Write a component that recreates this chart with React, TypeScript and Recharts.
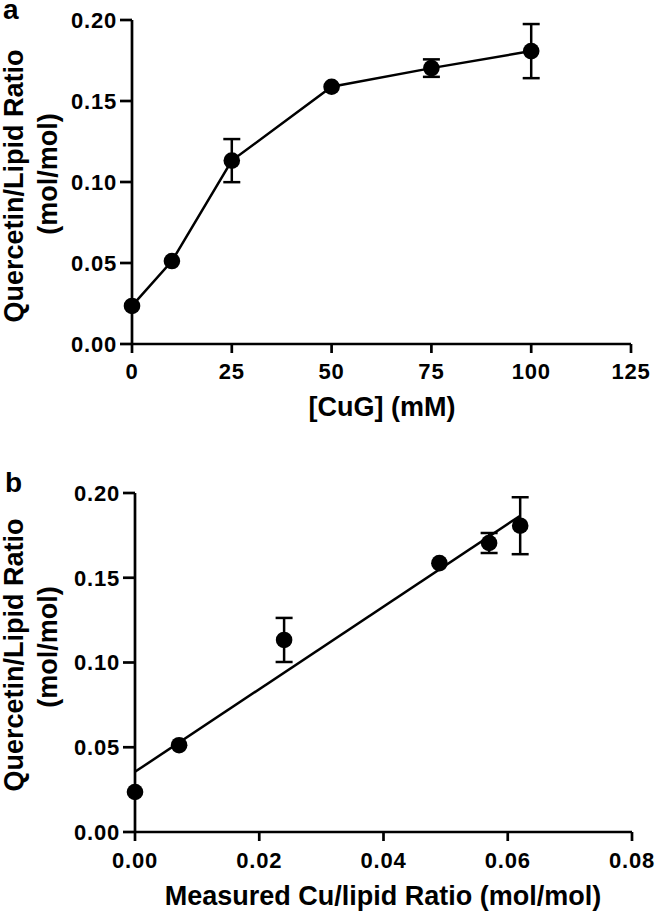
import { ComposedChart, ErrorBar, Line, Scatter, XAxis, YAxis } from 'recharts'

// panel a: uptake vs CuG concentration
const cugConc = [0, 10, 25, 50, 75, 100]
const ratioA = [0.0235, 0.0512, 0.1132, 0.1588, 0.1703, 0.1808]
const errA = [0, 0, 0.0133, 0, 0.0054, 0.0167]

// panel b: uptake vs measured Cu/lipid
const cuLipid = [0, 0.0071, 0.024, 0.049, 0.057, 0.062]
const ratioB = [0.0236, 0.0512, 0.1133, 0.1586, 0.1705, 0.1807]
const errB = [0, 0, 0.013, 0, 0.0059, 0.0168]

// linear fit drawn in panel b
const fitX = [0, 0.062]
const fitY = [0.0355, 0.1866]

const xTicksA = [0, 25, 50, 75, 100, 125]
const xTicksB = [0, 0.02, 0.04, 0.06, 0.08]
const yTicks = [0, 0.05, 0.1, 0.15, 0.2]

const dataA = cugConc.map((x, i) => ({ x, y: ratioA[i], err: errA[i] }))
const dataB = cuLipid.map((x, i) => ({ x, y: ratioB[i], err: errB[i] }))
const fitData = fitX.map((x, i) => ({ x, y: fitY[i] }))

const FONT = '"Liberation Sans", Arial, Helvetica, sans-serif'
const tickStyle = { fill: '#000', fontSize: 22, fontWeight: 700, fontFamily: FONT, letterSpacing: 0.8 }
const axisStroke = { stroke: '#000', strokeWidth: 2.7 }

const Dot = (props: any) => <circle cx={props.cx} cy={props.cy} r={8.3} fill="#000" />

function YTitle({ x1, c1, x2, c2 }: { x1: number; c1: number; x2: number; c2: number }) {
  return (
    <>
      <text x={x1} y={c1} transform={`rotate(-90 ${x1} ${c1})`} textAnchor="middle">
        Quercetin/Lipid Ratio
      </text>
      <text x={x2} y={c2} transform={`rotate(-90 ${x2} ${c2})`} textAnchor="middle">
        (mol/mol)
      </text>
    </>
  )
}

export default function App() {
  return (
    <div style={{ position: 'absolute', top: 0, left: 0, width: 657, height: 914, background: '#fff' }}>
      <div style={{ position: 'absolute', top: 0, left: 0 }}>
        <ComposedChart width={657} height={440} data={dataA} margin={{ top: 20, right: 26, bottom: 0, left: 0 }}>
          <XAxis
            type="number"
            dataKey="x"
            domain={[0, 125]}
            ticks={xTicksA}
            height={96}
            tick={tickStyle}
            tickSize={9}
            tickMargin={10}
            axisLine={axisStroke}
            tickLine={axisStroke}
          />
          <YAxis
            type="number"
            domain={[0, 0.2]}
            ticks={yTicks}
            width={132}
            tickFormatter={(v: number) => v.toFixed(2)}
            tick={tickStyle}
            tickSize={12}
            tickMargin={3}
            axisLine={axisStroke}
            tickLine={axisStroke}
          />
          <Line
            dataKey="y"
            stroke="#000"
            strokeWidth={2.5}
            dot={{ r: 8.3, fill: '#000', stroke: 'none' }}
            isAnimationActive={false}
          >
            <ErrorBar dataKey="err" direction="y" width={8.5} stroke="#000" strokeWidth={2.5} isAnimationActive={false} />
          </Line>
        </ComposedChart>
      </div>

      <div style={{ position: 'absolute', top: 440, left: 0 }}>
        <ComposedChart width={657} height={474} data={dataB} margin={{ top: 53, right: 25, bottom: 0, left: 0 }}>
          <XAxis
            type="number"
            dataKey="x"
            domain={[0, 0.08]}
            ticks={xTicksB}
            height={82}
            tickFormatter={(v: number) => v.toFixed(2)}
            tick={tickStyle}
            tickSize={9}
            tickMargin={11}
            axisLine={axisStroke}
            tickLine={axisStroke}
          />
          <YAxis
            type="number"
            dataKey="y"
            domain={[0, 0.2]}
            ticks={yTicks}
            width={135}
            tickFormatter={(v: number) => v.toFixed(2)}
            tick={tickStyle}
            tickSize={12}
            tickMargin={3}
            axisLine={axisStroke}
            tickLine={axisStroke}
          />
          <Line
            data={fitData}
            dataKey="y"
            stroke="#000"
            strokeWidth={2.5}
            dot={false}
            isAnimationActive={false}
          />
          <Scatter data={dataB} dataKey="y" shape={Dot} isAnimationActive={false}>
            <ErrorBar dataKey="err" direction="y" width={8.5} stroke="#000" strokeWidth={2.5} isAnimationActive={false} />
          </Scatter>
        </ComposedChart>
      </div>

      <svg
        width={657}
        height={914}
        style={{ position: 'absolute', top: 0, left: 0, pointerEvents: 'none' }}
        fontFamily={FONT}
        fontWeight={700}
        fill="#000"
      >
        <text x={3} y={19} fontSize={28}>a</text>
        <text x={5} y={492} fontSize={28}>b</text>
        <g fontSize={27}>
          <YTitle x1={23} c1={186} x2={57} c2={174} />
          <text x={382} y={416} textAnchor="middle">[CuG] (mM)</text>
        </g>
        <g fontSize={27}>
          <YTitle x1={23} c1={655} x2={57} c2={647} />
          <text x={383} y={905} textAnchor="middle">Measured Cu/lipid Ratio (mol/mol)</text>
        </g>
      </svg>
    </div>
  )
}
